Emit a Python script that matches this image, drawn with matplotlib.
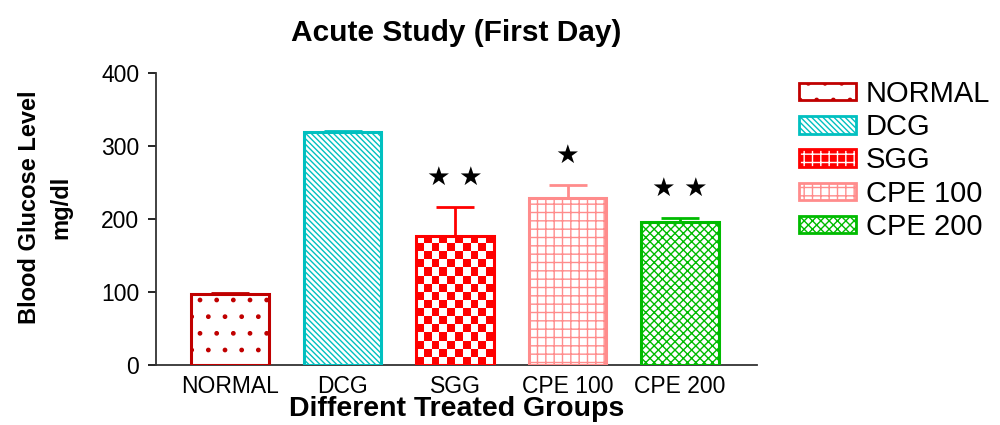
import numpy as np
import matplotlib
matplotlib.use('Agg')
import matplotlib.pyplot as plt
from matplotlib.colors import ListedColormap
from matplotlib.patches import Patch
from matplotlib.legend_handler import HandlerTuple

plt.rcParams['font.family'] = ['Liberation Sans', 'DejaVu Sans']
plt.rcParams['hatch.linewidth'] = 1.0

groups = ['NORMAL', 'DCG', 'SGG', 'CPE 100', 'CPE 200']
glucose = [97, 319, 177, 229, 196]
sem = [2, 2, 40, 18, 5]
stars = ['', '', '\u2605 \u2605', '\u2605', '\u2605 \u2605']

colors = ['#C00000', '#00C0C0', '#FF0000', '#FF8C8C', '#00BB00']
hatches = ['.', '\\\\\\\\\\\\', None, '++', 'xxxx']

fig = plt.figure(figsize=(10, 4.25), dpi=100)
ax = fig.add_axes([0.156, 0.141, 0.601, 0.687])

x = np.arange(len(groups))
bars = []
for i in range(len(groups)):
    b = ax.bar(x[i], glucose[i], width=0.69, facecolor='white' if hatches[i] else 'none',
               edgecolor=colors[i], hatch=hatches[i], linewidth=2.2, zorder=3)
    bars.append(b.patches[0])
    ax.errorbar(x[i], glucose[i], yerr=[[0], [sem[i]]], color=colors[i],
                elinewidth=2, capsize=14, capthick=2, zorder=2)

# checkerboard fill for the SGG bar, clipped to the bar outline
sgg = bars[2]
nx, ny = 10, int(round(glucose[2] / 11))
board = np.indices((ny, nx)).sum(axis=0) % 2
im = ax.imshow(board, cmap=ListedColormap(['white', '#FF0000']), aspect='auto',
               interpolation='nearest',
               extent=(sgg.get_x(), sgg.get_x() + sgg.get_width(), 0, sgg.get_height()),
               zorder=2.5)
im.set_clip_path(sgg)

for i in range(len(groups)):
    if stars[i]:
        ax.annotate(stars[i], (x[i], glucose[i] + sem[i]), xytext=(0, 21),
                    textcoords='offset points', ha='center', va='center',
                    fontsize=19, family='DejaVu Sans', color='black')

ax.set_xlim(-0.658, 4.684)
ax.set_ylim(0, 400)
ax.set_yticks([0, 100, 200, 300, 400])
ax.set_xticks(x)
ax.set_xticklabels(groups)
ax.tick_params(axis='x', length=0, pad=7, labelsize=16.5)
ax.tick_params(axis='y', length=6, width=1.2, pad=6, labelsize=16.5)
for s in ['top', 'right']:
    ax.spines[s].set_visible(False)
for s in ['left', 'bottom']:
    ax.spines[s].set_linewidth(1.3)
    ax.spines[s].set_color('#333333')

ax.set_title('Acute Study (First Day)', fontsize=21.5, fontweight='bold', pad=23)
ax.set_xlabel('Different Treated Groups', fontsize=20.5, fontweight='bold', labelpad=-1)
fig.text(0.045, 1 - 207 / 425, 'Blood Glucose Level\nmg/dl', rotation=90,
         ha='center', va='center', multialignment='center',
         fontsize=17, fontweight='bold', linespacing=1.45)

# legend swatches
handles = [
    Patch(facecolor='white', edgecolor=colors[0], hatch='.', linewidth=2),
    Patch(facecolor='white', edgecolor=colors[1], hatch='\\\\\\\\\\\\', linewidth=2),
    (Patch(facecolor='#FF0000', edgecolor='white', hatch='++', linewidth=0),
     Patch(facecolor='none', edgecolor='#FF0000', linewidth=2)),
    Patch(facecolor='white', edgecolor=colors[3], hatch='++', linewidth=2),
    Patch(facecolor='white', edgecolor=colors[4], hatch='xxxx', linewidth=2),
]
fig.legend(handles, groups, loc='upper left', bbox_to_anchor=(0.799, 0.812),
           frameon=False, fontsize=21, handlelength=1.95, handleheight=0.55,
           handletextpad=0.35, labelspacing=0.18, borderpad=0, borderaxespad=0,
           handler_map={tuple: HandlerTuple(ndivide=1, pad=0)})

fig.savefig('out.png', dpi=100)
